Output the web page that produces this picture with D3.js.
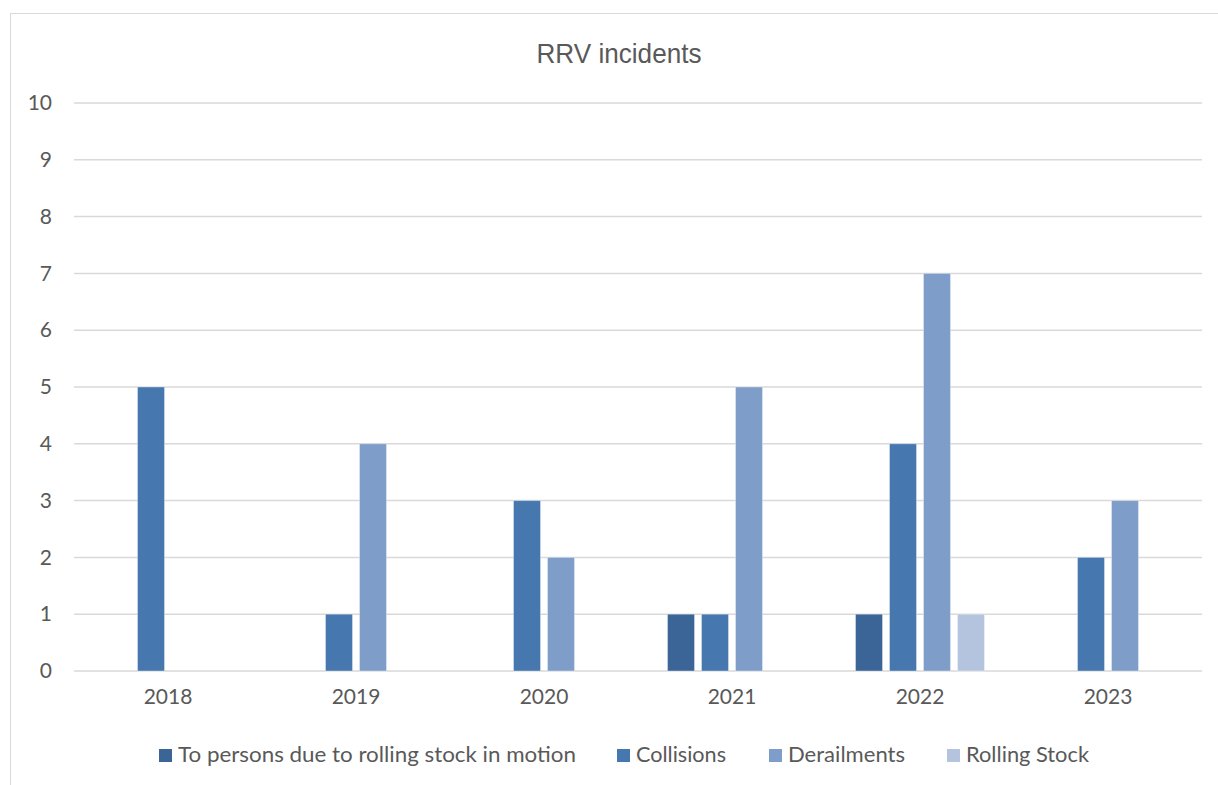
<!DOCTYPE html>
<html>
<head>
<meta charset="utf-8">
<script src="https://cdn.jsdelivr.net/npm/d3@7"></script>
<style>
  body { margin: 0; background: #fff; overflow: hidden; }
  text { font-family: Lato, "Open Sans", sans-serif; fill: #595959; }
</style>
</head>
<body>
<div id="chart"></div>
<script>
// data
var years = ["2018", "2019", "2020", "2021", "2022", "2023"];
var seriesNames = ["To persons due to rolling stock in motion", "Collisions", "Derailments", "Rolling Stock"];
var toPersons = [0, 0, 0, 1, 1, 0];
var collisions = [5, 1, 3, 1, 4, 2];
var derailments = [0, 4, 2, 5, 7, 3];
var rollingStock = [0, 0, 0, 0, 1, 0];
var yTicks = [0, 1, 2, 3, 4, 5, 6, 7, 8, 9, 10];
var colors = ["#3c6597", "#4677af", "#7f9dc9", "#b4c4de"];

var values = [toPersons, collisions, derailments, rollingStock];

var width = 1218;
var height = 785;
var svg = d3.select("#chart").append("svg")
  .attr("width", width)
  .attr("height", height);

// chart border (right and bottom edges fall outside the picture)
svg.append("rect")
  .attr("x", 10.5).attr("y", 13.5)
  .attr("width", 1215).attr("height", 790)
  .attr("fill", "none")
  .attr("stroke", "#d9d9d9");

var plotLeft = 74, plotRight = 1202;
var y = d3.scaleLinear().domain([0, 10]).range([671, 103]);
var x0 = d3.scaleBand().domain(years).range([plotLeft, plotRight])
  .paddingInner(0.314).paddingOuter(0.157);
var x1 = d3.scaleBand().domain(d3.range(seriesNames.length))
  .range([0, x0.bandwidth()]).paddingInner(0.206);

// title
svg.append("text")
  .attr("x", 619).attr("y", 63)
  .attr("text-anchor", "middle")
  .style("font-family", "'Liberation Sans', Arial, sans-serif")
  .style("font-size", "28px")
  .attr("textLength", 165)
  .attr("lengthAdjust", "spacingAndGlyphs")
  .text("RRV incidents");

// gridlines
svg.append("g").selectAll("line")
  .data(yTicks)
  .join("line")
  .attr("x1", plotLeft).attr("x2", plotRight)
  .attr("y1", d => y(d)).attr("y2", d => y(d))
  .attr("stroke", "#d9d9d9")
  .attr("stroke-width", 1.5);

// y axis labels
var yAxis = d3.axisLeft(y).tickValues(yTicks).tickSize(0).tickPadding(0);
svg.append("g")
  .attr("transform", "translate(52,0)")
  .call(yAxis)
  .call(g => g.select(".domain").remove())
  .selectAll("text")
  .style("font-size", "21px")
  .style("font-family", "Lato, sans-serif")
  .attr("fill", "#595959");

// x axis labels
var xAxis = d3.axisBottom(x0).tickSize(0).tickPadding(0);
svg.append("g")
  .attr("transform", "translate(0,689)")
  .call(xAxis)
  .call(g => g.select(".domain").remove())
  .selectAll("text")
  .style("font-size", "21px")
  .style("font-family", "Lato, sans-serif")
  .attr("fill", "#595959");

// bars
var groups = svg.append("g").selectAll("g")
  .data(years)
  .join("g")
  .attr("transform", d => "translate(" + x0(d) + ",0)");

groups.selectAll("rect")
  .data((d, i) => values.map((v, s) => ({ s: s, v: v[i] })).filter(e => e.v > 0))
  .join("rect")
  .attr("x", d => x1(d.s))
  .attr("width", x1.bandwidth())
  .attr("y", d => y(d.v))
  .attr("height", d => y(0) - y(d.v))
  .attr("fill", d => colors[d.s])
  .attr("stroke", "#ffffff")
  .attr("stroke-opacity", 0.35)
  .attr("stroke-width", 1);

// legend
var legendX = [159, 617, 769, 947];
var legendW = [398, 90, 117, 123];
var legend = svg.append("g").selectAll("g")
  .data(seriesNames)
  .join("g")
  .attr("transform", (d, i) => "translate(" + legendX[i] + ",749)");

legend.append("rect")
  .attr("width", 13).attr("height", 13)
  .attr("fill", (d, i) => colors[i]);

legend.append("text")
  .attr("x", 19).attr("y", 13)
  .style("font-size", "21px")
  .attr("textLength", (d, i) => legendW[i])
  .attr("lengthAdjust", "spacingAndGlyphs")
  .text(d => d);
</script>
</body>
</html>
